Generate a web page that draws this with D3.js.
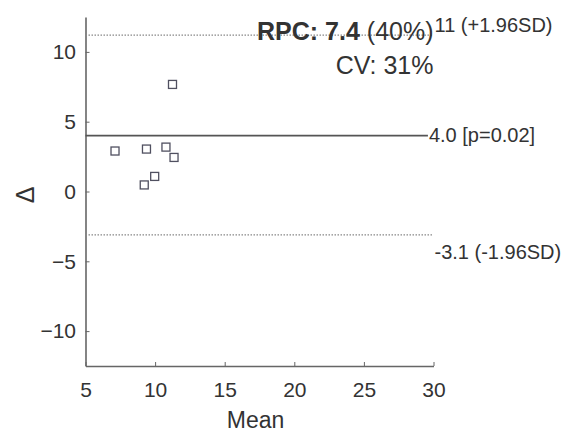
<!DOCTYPE html>
<html>
<head>
<meta charset="utf-8">
<script src="https://cdn.jsdelivr.net/npm/d3@7"></script>
<style>
  body { margin: 0; background: #fff; }
  text { font-family: "Liberation Sans", Arial, sans-serif; fill: #333; }
</style>
</head>
<body>
<div id="chart"></div>
<script>
// Bland-Altman style data
var means = [7.12, 9.38, 10.78, 11.36, 11.25, 9.22, 9.97];
var diffs = [2.90, 3.04, 3.18, 2.44, 7.67, 0.47, 1.08];

var xTicks = [5, 10, 15, 20, 25, 30];
var yTicks = [-10, -5, 0, 5, 10];

// limit lines: value, label, style
var limitValues = [11.2, 4.0, -3.1];
var limitLabels = ["11 (+1.96SD)", "4.0 [p=0.02]", "-3.1 (-1.96SD)"];
var limitDotted = [true, false, true];

var rpcBold = "RPC: 7.4 ";
var rpcRest = "(40%)";
var cvText = "CV: 31%";

var W = 563, H = 444;

var svg = d3.select("#chart")
    .append("svg")
    .attr("width", W)
    .attr("height", H);

var x = d3.scaleLinear().domain([5, 30]).range([85.5, 433.5]);
var y = d3.scaleLinear().domain([-12.5, 12.5]).range([366, 17]);

// Axes with small inward ticks
var xAxis = svg.append("g")
    .attr("transform", "translate(0," + y(-12.5) + ")")
    .call(d3.axisBottom(x).tickValues(xTicks).tickSizeInner(-4).tickSizeOuter(0).tickPadding(16));

var yAxis = svg.append("g")
    .attr("transform", "translate(" + x(5) + ",0)")
    .call(d3.axisLeft(y).tickValues(yTicks).tickSizeInner(-4).tickSizeOuter(0).tickPadding(9.5));

[xAxis, yAxis].forEach(function(a) {
    a.select(".domain").attr("stroke", "#666").attr("stroke-width", 1.6);
    a.selectAll(".tick line").attr("stroke", "#666").attr("stroke-width", 1);
    a.selectAll(".tick text").style("font-size", "21px").attr("fill", "#333");
});

// Limit lines
limitValues.forEach(function(v, i) {
    svg.append("line")
        .attr("x1", x(5))
        .attr("x2", limitDotted[i] ? x(30) : x(29.6))
        .attr("y1", y(v))
        .attr("y2", y(v))
        .attr("stroke", limitDotted[i] ? "#888" : "#555")
        .attr("stroke-width", limitDotted[i] ? 1.2 : 1.6)
        .attr("stroke-dasharray", limitDotted[i] ? "1.5,1.5" : null);
});

var labelDy = [-3, 6.5, 24];
limitValues.forEach(function(v, i) {
    svg.append("text")
        .attr("x", i === 1 ? x(29.6) + 1 : x(30) + 1)
        .attr("y", y(v) + labelDy[i])
        .style("font-size", "20px")
        .text(limitLabels[i]);
});

// Data points
svg.selectAll("rect.pt")
    .data(means)
    .enter()
    .append("rect")
    .attr("class", "pt")
    .attr("x", function(d) { return x(d) - 4; })
    .attr("y", function(d, i) { return y(diffs[i]) - 4; })
    .attr("width", 8)
    .attr("height", 8)
    .attr("fill", "none")
    .attr("stroke", "#505060")
    .attr("stroke-width", 1.3);

// RPC / CV annotation
var rpc = svg.append("text")
    .attr("x", x(30))
    .attr("y", 40)
    .attr("text-anchor", "end")
    .style("font-size", "25px");
rpc.append("tspan").style("font-weight", "bold").text(rpcBold);
rpc.append("tspan").text(rpcRest);

svg.append("text")
    .attr("x", x(30))
    .attr("y", 74)
    .attr("text-anchor", "end")
    .style("font-size", "25px")
    .text(cvText);

// Axis titles
svg.append("text")
    .attr("x", 255.5)
    .attr("y", 428)
    .attr("text-anchor", "middle")
    .style("font-size", "23px")
    .text("Mean");

svg.append("text")
    .attr("transform", "translate(34," + 195 + ") rotate(-90)")
    .attr("text-anchor", "middle")
    .style("font-size", "25px")
    .text("Δ");
</script>
</body>
</html>
